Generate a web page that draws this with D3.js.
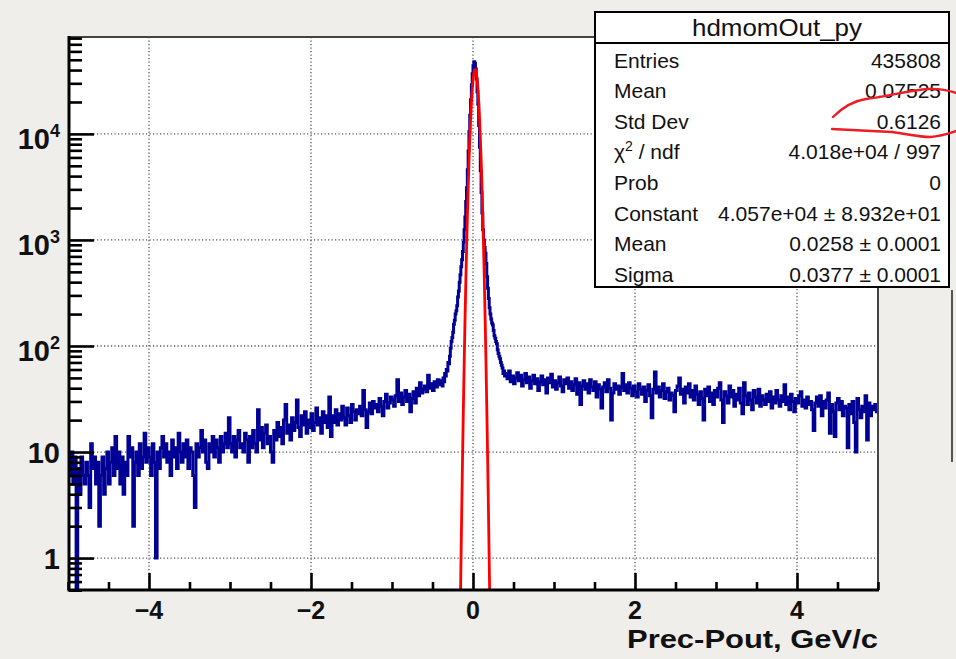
<!DOCTYPE html>
<html><head><meta charset="utf-8">
<script src="https://cdn.jsdelivr.net/npm/d3@7"></script>
<style>body{margin:0;background:#f0eeeb;}svg{display:block;}</style>
</head><body>
<svg id="c" width="956" height="659"></svg>
<script>
// ---------------- data ----------------
// left tail: bins of width 0.02 starting at -5.00
const leftStart = -5.0, tailWidth = 0.02;
const leftTail = [
  8,6,10,5,9,0,7,4,9,6,
  5,8,6,3,12,7,9,5,8,2,
  6,9,4,7,10,5,8,11,6,14,
  7,10,5,9,4,8,6,14,9,11,
  2,8,10,6,12,7,9,15,8,11,
  9,6,12,8,1,10,7,11,14,9,
  12,8,10,6,13,9,11,7,15,10,
  8,12,9,13,7,11,10,6,3,12,
  9,11,16,10,13,8,7,12,10,14,
  9,13,11,8,14,10,12,15,11,21,
  12,10,14,9,13,16,11,12,10,15,
  13,8,14,11,16,12,10,25,13,17,
  11,15,18,12,14,10,8,16,13,19,
  14,17,12,20,28,15,18,13,21,16,
  19,31,17,14,22,18,24,15,20,17,
  23,16,19,26,18,21,15,24,19,22,
  17,33,14,22,19,25,18,23,20,27,
  21,18,26,22,19,28,24,20,25,23,
  27,22,38,25,17,24,29,23,30,26,
  28,24,32,27,22,30,35,26,29,33,
  31,27,34,48,30,36,28,33,38,30,
  35,24,32,37,29,40,34,45,36,39,
  42,37,53,40,44,38,46,41,48,43];
// core: bins of width 0.01 starting at -0.40
const coreStart = -0.40, coreWidth = 0.01;
const core = [44,47,42,50,46,55,52,60,58,70,68,80,95,110,120,135,160,175,200,215,
  240,290,330,400,470,560,650,780,950,1250,1650,2300,3100,4600,6900,10500,15000,21000,29000,37000,
  44000,47800,46500,41000,33000,25000,19000,12000,7500,4500,2800,1800,1250,1000,850,750,600,450,350,280,
  230,200,180,165,158,140,125,118,110,105,92,85,80,76,70,66,62,55,58,52];
// right tail: bins of width 0.02 starting at 0.40
const rightStart = 0.40;
const rightTail = [
  55,49,58,46,52,44,50,56,47,53,
  42,48,55,45,51,40,47,53,44,49,
  38,46,52,43,48,36,50,45,54,41,
  47,39,45,51,42,37,48,44,50,40,
  46,38,43,49,35,45,28,42,47,39,
  44,36,48,41,38,46,33,43,39,26,
  41,45,37,48,40,20,36,44,39,42,
  35,41,55,38,43,36,45,40,34,42,
  37,33,44,39,35,41,30,38,43,34,
  21,39,57,36,41,33,38,44,32,37,
  40,31,36,34,24,38,42,50,35,39,
  29,41,36,44,33,38,31,42,35,28,
  37,32,20,39,34,41,30,36,28,38,
  33,40,45,31,19,37,34,29,42,33,
  38,27,35,31,40,29,23,45,34,28,
  36,31,25,38,33,29,39,27,34,31,
  28,35,30,37,26,33,29,38,31,27,
  34,30,43,28,33,25,35,30,24,32,
  29,34,37,27,31,26,33,28,30,25,
  16,29,33,27,34,22,30,26,31,36,
  15,28,24,14,29,32,25,30,22,27,
  26,11,28,23,30,19,10,32,25,21,
  27,24,34,13,29,22,27,25,28,24];
// gaussian fit curve
const fitX = [-0.17,-0.16,-0.15,-0.14,-0.13,-0.12,-0.11,-0.10,-0.09,-0.08,-0.07,-0.06,-0.05,-0.04,-0.03,-0.02,-0.01,
  0.00,0.01,0.02,0.03,0.04,0.05,0.06,0.07,0.08,0.09,0.10,0.11,0.12,0.13,0.14,0.15,0.16,0.17,0.18,0.19,0.20,0.21,0.22];
const fitY = [0.05,0.22,0.77,2.56,7.9,22.9,61.7,155,362,791,1607,3044,5375,8849,13571,19397,25843,
  32103,37158,40095,40319,37791,33016,26886,20411,14427,9518,5846,3351,1789,890,413,179,71.9,27.0,9.46,3.08,0.93,0.27,0.07];

const xTicks = [-4,-2,0,2,4];
const xTickLabels = ["\u22124","\u22122","0","2","4"];
const yTicks = [1,10,100,1000,10000];
const yTickLabels = ["1","10","10^2","10^3","10^4"];
const xTitle = "Prec-Pout, GeV/c";
const statsTitle = "hdmomOut_py";
const statLabels = ["Entries","Mean","Std Dev","\u03c7^2 / ndf","Prob","Constant","Mean","Sigma"];
const statValues = ["435808","0.07525","0.6126","4.018e+04 / 997","0","4.057e+04 \u00b1 8.932e+01","0.0258 \u00b1 0.0001","0.0377 \u00b1 0.0001"];

// ---------------- layout ----------------
const L = 69, R = 878, T = 37, B = 590;
const svg = d3.select("#c");
const font = "'Liberation Sans', Arial, Helvetica, sans-serif";

svg.append("rect").attr("width",956).attr("height",659).attr("fill","#f0eeeb");
svg.append("rect").attr("x",L).attr("y",T).attr("width",R-L).attr("height",B-T).attr("fill","#ffffff");

const x = d3.scaleLinear().domain([-5,5]).range([L-1,R]);
const y = d3.scaleLog().domain([0.5,82000]).range([B,T]);

// grid
const grid = svg.append("g").attr("stroke","#555").attr("stroke-width",1.3).attr("stroke-dasharray","1.2,2.3");
grid.selectAll("line.gx").data(xTicks).join("line")
  .attr("x1",d=>x(d)).attr("x2",d=>x(d)).attr("y1",T).attr("y2",B);
grid.selectAll("line.gy").data(yTicks).join("line")
  .attr("x1",L).attr("x2",R).attr("y1",d=>y(d)).attr("y2",d=>y(d));

// clip
svg.append("clipPath").attr("id","clip").append("rect")
  .attr("x",L).attr("y",T).attr("width",R-L).attr("height",B-T);

// histogram bins
const bins = [];
leftTail.forEach((v,i)=>bins.push({x0:leftStart+i*tailWidth, v}));
core.forEach((v,i)=>bins.push({x0:coreStart+i*coreWidth, v}));
rightTail.forEach((v,i)=>bins.push({x0:rightStart+i*tailWidth, v}));
bins.push({x0:5, v:rightTail[rightTail.length-1]});
const yv = v => v > 0 ? y(v) : B + 5;

const plot = svg.append("g").attr("clip-path","url(#clip)");
plot.append("path").datum(bins)
  .attr("d", d3.line().x(d=>x(d.x0)).y(d=>yv(d.v)).curve(d3.curveStepAfter))
  .attr("fill","none").attr("stroke","#000094").attr("stroke-width",3).attr("stroke-linejoin","miter");

const fit = fitX.map((xx,i)=>({x:xx, v:fitY[i]}));
plot.append("path").datum(fit)
  .attr("d", d3.line().x(d=>x(d.x)).y(d=>y(d.v)))
  .attr("fill","none").attr("stroke","#ff0000").attr("stroke-width",2.8);

// frame top/right
svg.append("line").attr("x1",L).attr("x2",R).attr("y1",T).attr("y2",T).attr("stroke","#444").attr("stroke-width",2);
svg.append("line").attr("x1",R).attr("x2",R).attr("y1",T).attr("y2",B).attr("stroke","#444").attr("stroke-width",2);

// axes
const xMinor = d3.range(-5,5.001,0.5).filter(v=>!xTicks.some(t=>Math.abs(t-v)<1e-6));
const yMinor = [];
for (let k=-1;k<=4;k++) for (let d=2; d<=9; d++){ const v=d*Math.pow(10,k); if (v>=0.5 && v<=82000) yMinor.push(v); }
yMinor.push(0.5);

const xAxisMaj = d3.axisBottom(x).tickValues(xTicks).tickSize(-17).tickFormat("");
const xAxisMin = d3.axisBottom(x).tickValues(xMinor).tickSize(-8).tickFormat("");
const yAxisMaj = d3.axisLeft(y).tickValues(yTicks).tickSize(-25).tickFormat("");
const yAxisMin = d3.axisLeft(y).tickValues(yMinor).tickSize(-13).tickFormat("");
function styleAxis(g){ g.select(".domain").remove(); g.selectAll("line").attr("stroke","#000").attr("stroke-width",2.6); }
svg.append("g").attr("transform",`translate(0,${B})`).call(xAxisMaj).call(styleAxis);
svg.append("g").attr("transform",`translate(0,${B})`).call(xAxisMin).call(styleAxis);
svg.append("g").attr("transform",`translate(${L},0)`).call(yAxisMaj).call(styleAxis);
svg.append("g").attr("transform",`translate(${L},0)`).call(yAxisMin).call(styleAxis);
svg.append("line").attr("x1",L).attr("x2",R+1).attr("y1",B).attr("y2",B).attr("stroke","#000").attr("stroke-width",3);
svg.append("line").attr("x1",L).attr("x2",L).attr("y1",T-1).attr("y2",B+1.5).attr("stroke","#000").attr("stroke-width",3);

// tick labels
svg.append("g").selectAll("text").data(xTicks).join("text")
  .attr("x",d=>x(d)).attr("y",619).attr("text-anchor","middle")
  .attr("font-family",font).attr("font-weight","bold").attr("font-size",25).attr("fill","#111")
  .text((d,i)=>xTickLabels[i]);

const yl = svg.append("g").attr("font-family",font).attr("font-weight","bold").attr("fill","#111");
yTicks.forEach((v,i)=>{
  const lab = yTickLabels[i];
  if (lab.includes("^")) {
    const [b,e] = lab.split("^");
    const t = yl.append("text").attr("x",60).attr("y",y(v)+15).attr("text-anchor","end").attr("font-size",29);
    t.append("tspan").text(b);
    t.append("tspan").attr("dy",-12).attr("font-size",18).text(e);
  } else {
    yl.append("text").attr("x",60).attr("y",y(v)+11).attr("text-anchor","end").attr("font-size",29).text(lab);
  }
});

// axis title
svg.append("text").attr("x",R).attr("y",648).attr("text-anchor","end")
  .attr("font-family",font).attr("font-weight","bold").attr("font-size",25).attr("fill","#111")
  .attr("textLength",251).attr("lengthAdjust","spacingAndGlyphs").text(xTitle);

// stats box
const sb = svg.append("g");
sb.append("rect").attr("x",595).attr("y",12).attr("width",354).attr("height",275)
  .attr("fill","#fff").attr("stroke","#000").attr("stroke-width",2);
sb.append("line").attr("x1",595).attr("x2",949).attr("y1",43).attr("y2",43).attr("stroke","#000").attr("stroke-width",2);
sb.append("text").attr("x",777).attr("y",36).attr("text-anchor","middle")
  .attr("font-family",font).attr("font-size",24).attr("fill","#111")
  .attr("textLength",170).attr("lengthAdjust","spacingAndGlyphs").text(statsTitle);
statLabels.forEach((lab,i)=>{
  const by = 67.5 + i*30.6;
  const t = sb.append("text").attr("x",614).attr("y",by).attr("font-family",font).attr("font-size",21).attr("fill","#111");
  if (lab.includes("^")) {
    const m = lab.match(/^(.*)\^(\S)(.*)$/);
    t.append("tspan").text(m[1]);
    t.append("tspan").attr("dy",-8).attr("font-size",14).text(m[2]);
    t.append("tspan").attr("dy",8).text(m[3]);
  } else t.text(lab);
  sb.append("text").attr("x",941).attr("y",by).attr("text-anchor","end")
    .attr("font-family",font).attr("font-size",21).attr("fill","#111").text(statValues[i]);
});

// neighbouring pad edge on the right
svg.append("line").attr("x1",952).attr("x2",952).attr("y1",290).attr("y2",462).attr("stroke","#222").attr("stroke-width",1.5);

// hand-drawn red annotation
const ann = svg.append("g").attr("fill","none").attr("stroke","#ee1c24").attr("stroke-width",2.4).attr("stroke-linecap","round");
ann.append("path").attr("d","M833,117 C842,108 852,101 866,99 C890,96 910,90 928,89 C942,88 950,91 956,93");
ann.append("path").attr("d","M832,129 C850,130 872,131 892,132 C908,134 918,137 930,137 C942,136 950,133 956,131");
</script>
</body></html>
